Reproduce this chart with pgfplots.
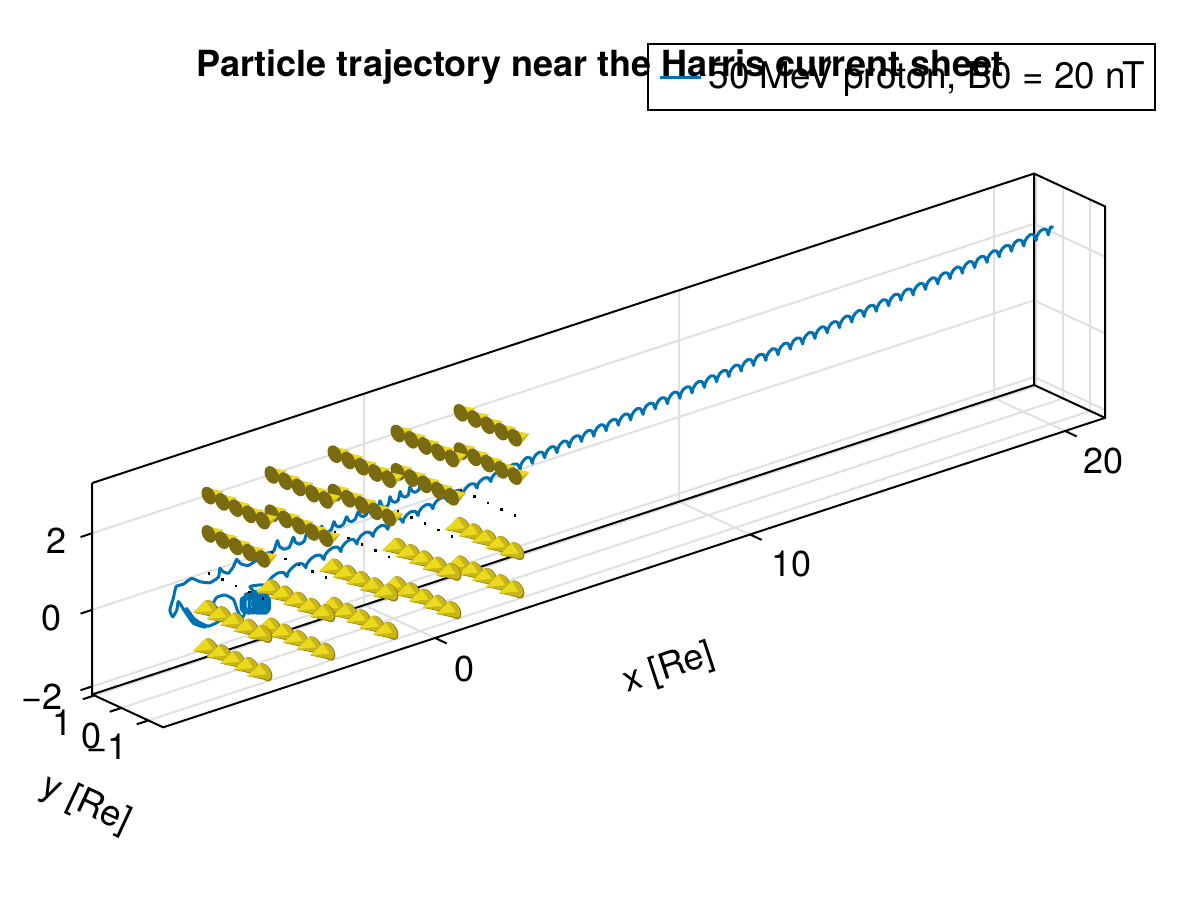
\documentclass[border=0pt]{standalone}
\usepackage{fontspec}
\setmainfont{TeX Gyre Heros}
\usepackage{pgfplots}
\pgfplotsset{compat=1.18}
\usetikzlibrary{calc}
\definecolor{traj}{HTML}{0072B2}
\definecolor{dotc}{HTML}{440154}
\definecolor{conebase}{HTML}{7A6A10}
\definecolor{conedark}{HTML}{8F7E10}
\definecolor{conegold}{HTML}{C9B517}
\definecolor{coneyel}{HTML}{EBD91E}
\newcommand{\tsize}{\fontsize{18}{21}\selectfont}
% cones, drawn in reference pixels (1 px = 0.5 pt)
\pgfdeclareplotmark{coneup}{%
  \pgftransformscale{0.5}%
  \pgfsetfillcolor{conegold}%
  \pgfpathmoveto{\pgfpoint{14.5pt}{5pt}}\pgfpathlineto{\pgfpoint{-3.8pt}{9pt}}\pgfpathlineto{\pgfpoint{4.8pt}{-7pt}}\pgfpathclose\pgfusepath{fill}%
  \pgfsetfillcolor{coneyel}%
  \pgfpathmoveto{\pgfpoint{14.5pt}{5pt}}\pgfpathlineto{\pgfpoint{-3.8pt}{9pt}}\pgfpathlineto{\pgfpoint{4pt}{-1pt}}\pgfpathclose\pgfusepath{fill}%
  \pgfsetfillcolor{conebase}%
  \pgfpathellipse{\pgfpoint{0pt}{1pt}}{\pgfpoint{-4.7pt}{8.2pt}}{\pgfpoint{5.5pt}{3.4pt}}\pgfusepath{fill}%
}
\pgfdeclareplotmark{conedown}{%
  \pgftransformscale{0.57}%
  \pgfsetfillcolor{conedark}%
  \pgfpathmoveto{\pgfpoint{-13.5pt}{-1pt}}\pgfpathlineto{\pgfpoint{-2.7pt}{9.6pt}}\pgfpathlineto{\pgfpoint{6.3pt}{-5.4pt}}\pgfpathclose\pgfusepath{fill}%
  \pgfpathellipse{\pgfpoint{2pt}{2.3pt}}{\pgfpoint{-4.6pt}{7.4pt}}{\pgfpoint{4.6pt}{2.8pt}}\pgfusepath{fill}%
  \pgfsetfillcolor{conegold}%
  \pgfpathmoveto{\pgfpoint{-13.5pt}{-1pt}}\pgfpathlineto{\pgfpoint{-2.7pt}{9.6pt}}\pgfpathlineto{\pgfpoint{5pt}{-4pt}}\pgfpathclose\pgfusepath{fill}%
  \pgfpathellipse{\pgfpoint{1.6pt}{2.8pt}}{\pgfpoint{-4.2pt}{6.8pt}}{\pgfpoint{4pt}{2.4pt}}\pgfusepath{fill}%
  \pgfsetfillcolor{coneyel}%
  \pgfpathmoveto{\pgfpoint{-13.5pt}{-1pt}}\pgfpathlineto{\pgfpoint{-2.7pt}{9.4pt}}\pgfpathlineto{\pgfpoint{3.5pt}{0.5pt}}\pgfpathclose\pgfusepath{fill}%
}
\begin{document}
\begin{tikzpicture}
\begin{axis}[
    hide axis,
    clip=false,
    x={(15.75pt,5.175pt)},
    y={(-13.5pt,6.25pt)},
    z={(0pt,19.15pt)},
    xmin=-8.63, xmax=21.27,
    ymin=-1.55, ymax=1.08,
    zmin=-2.21, zmax=3.31,
    unbounded coords=jump,
    title={\tsize\bfseries Particle trajectory near the Harris current sheet},
    title style={at={(0.5015,1.170)},anchor=center,inner sep=0pt},
    legend style={at={(1.0503,1.2355)},anchor=north east,draw=black,line width=1pt,fill=none,
        font=\fontsize{18.4}{21}\selectfont,inner xsep=3pt,inner ysep=7pt},
    legend cell align=left,
    legend image code/.code={\path (-2.5pt,0pt);\draw[#1] (0pt,0pt) -- (20.5pt,0pt);\path (21.5pt,0pt);},
]
% grid on the floor and the two back walls
\addplot3[forget plot,mark=none,black!12,line width=1pt] coordinates {
  (0,-1.55,-2.21)(0,1.08,-2.21)(0,1.08,3.31) (nan,nan,nan)
  (10,-1.55,-2.21)(10,1.08,-2.21)(10,1.08,3.31) (nan,nan,nan)
  (20,-1.55,-2.21)(20,1.08,-2.21)(20,1.08,3.31) (nan,nan,nan)
  (-8.63,-1,-2.21)(21.27,-1,-2.21)(21.27,-1,3.31) (nan,nan,nan)
  (-8.63,0,-2.21)(21.27,0,-2.21)(21.27,0,3.31) (nan,nan,nan)
  (-8.63,1,-2.21)(21.27,1,-2.21)(21.27,1,3.31) (nan,nan,nan)
  (-8.63,1.08,-2)(21.27,1.08,-2)(21.27,-1.55,-2) (nan,nan,nan)
  (-8.63,1.08,0)(21.27,1.08,0)(21.27,-1.55,0) (nan,nan,nan)
  (-8.63,1.08,2)(21.27,1.08,2)(21.27,-1.55,2)
};
% box and ticks
\addplot3[forget plot,mark=none,black,line width=1pt] coordinates {
  (-8.63,1.08,3.31)(-8.63,1.08,-2.21)(-8.63,-1.55,-2.21)(21.27,-1.55,-2.21)(21.27,-1.55,3.31)(21.27,1.08,3.31)(-8.63,1.08,3.31) (nan,nan,nan)
  (-8.63,1.08,-2.21)(21.27,1.08,-2.21)(21.27,1.08,3.31) (nan,nan,nan)
  (21.27,1.08,-2.21)(21.27,-1.55,-2.21) (nan,nan,nan)
  (0,-1.55,-2.21)(0,-1.98,-2.21) (nan,nan,nan)
  (10,-1.55,-2.21)(10,-1.98,-2.21) (nan,nan,nan)
  (20,-1.55,-2.21)(20,-1.98,-2.21) (nan,nan,nan)
  (-8.63,-1,-2.21)(-9,-1,-2.21) (nan,nan,nan)
  (-8.63,0,-2.21)(-9,0,-2.21) (nan,nan,nan)
  (-8.63,1,-2.21)(-9,1,-2.21) (nan,nan,nan)
  (-8.63,1.08,-2)(-9,1.08,-2) (nan,nan,nan)
  (-8.63,1.08,0)(-9,1.08,0) (nan,nan,nan)
  (-8.63,1.08,2)(-9,1.08,2)
};
% zero field points
\addplot3[forget plot,only marks,mark=square*,mark size=0.4pt,mark options={draw=none,fill=dotc}] coordinates {
  (3,1,0)(3,0.5,0)(3,0,0)(3,-0.5,0)(3,-1,0)
  (1,1,0)(1,0.5,0)(1,0,0)(1,-0.5,0)(1,-1,0)
  (-1,1,0)(-1,0.5,0)(-1,0,0)(-1,-0.5,0)(-1,-1,0)
  (-3,1,0)(-3,0.5,0)(-3,0,0)(-3,-0.5,0)(-3,-1,0)
  (-5,1,0)(-5,0.5,0)(-5,0,0)(-5,-0.5,0)(-5,-1,0)
};
% trajectory: x z, in the plane y = 0
\addplot3[traj,mark=none,line width=1.5pt,line join=round,smooth,tension=0.3]
  table[x index=0,y expr=0,z index=1,header=false,row sep=\\] {
0.85 1.05\\0.81 0.93\\0.69 0.90\\0.59 0.97\\0.53 1.09\\0.48 0.89\\0.38 0.86\\0.27 0.93\\0.22 1.05\\0.16 0.84\\
0.06 0.81\\-0.05 0.88\\-0.10 1.00\\-0.16 0.80\\-0.28 0.77\\-0.37 0.86\\-0.42 0.98\\-0.49 0.78\\-0.61 0.74\\-0.70 0.80\\
-0.76 0.92\\-0.84 0.75\\-0.95 0.71\\-1.05 0.77\\-1.11 0.88\\-1.21 0.71\\-1.32 0.68\\-1.41 0.73\\-1.48 0.85\\-1.58 0.68\\
-1.71 0.65\\-1.82 0.71\\-1.88 0.83\\-1.97 0.64\\-2.11 0.61\\-2.22 0.68\\-2.27 0.82\\-2.40 0.60\\-2.53 0.57\\-2.66 0.65\\
-2.73 0.80\\-2.83 0.57\\-2.98 0.54\\-3.10 0.62\\-3.17 0.77\\-3.30 0.54\\-3.47 0.54\\-3.61 0.65\\-3.68 0.82\\-3.80 0.57\\
-4.02 0.58\\-4.33 0.49\\-4.60 0.42\\-4.84 0.53\\-4.97 0.68\\-5.07 0.52\\-5.23 0.39\\-5.41 0.48\\-5.50 0.59\\-5.55 0.37\\
-5.82 0.30\\-6.13 0.41\\-6.40 0.57\\-6.66 0.49\\-6.89 0.49\\-6.98 0.21\\-7.09 -0.07\\-7.00 -0.27\\-6.87 -0.13\\-6.82 0.08\\
-6.61 -0.24\\-6.34 -0.62\\-5.97 -0.82\\-6.29 -0.55\\-6.56 -0.17\\-6.45 -0.37\\-6.19 -0.62\\-5.87 -0.82\\-5.55 -0.79\\-5.39 -0.70\\
-5.60 -0.43\\-5.71 -0.27\\-5.60 -0.14\\-5.34 -0.15\\-5.07 -0.34\\-4.95 -0.65\\-4.81 -0.90\\-4.70 -0.76\\-4.81 -0.47\\-4.60 -0.35\\-4.33 -0.33\\
-4.70 -0.31\\-4.58 -0.47\\-4.58 -0.71\\-4.70 -0.80\\-4.82 -0.65\\-4.82 -0.40\\
-4.57 -0.35\\-4.45 -0.50\\-4.45 -0.75\\-4.57 -0.84\\-4.69 -0.68\\-4.69 -0.44\\
-4.44 -0.38\\-4.32 -0.54\\-4.32 -0.78\\-4.44 -0.87\\-4.56 -0.72\\-4.56 -0.47\\
-4.33 -0.41\\-4.21 -0.57\\-4.21 -0.81\\-4.33 -0.90\\-4.45 -0.75\\-4.45 -0.50\\
-4.24 -0.44\\-4.12 -0.59\\-4.12 -0.84\\-4.24 -0.93\\-4.36 -0.77\\-4.36 -0.53\\
-4.16 -0.46\\-4.04 -0.61\\-4.04 -0.86\\-4.16 -0.95\\-4.28 -0.79\\-4.28 -0.55\\
-4.10 -0.48\\-3.98 -0.63\\-3.98 -0.88\\-4.10 -0.96\\-4.22 -0.81\\-4.22 -0.56\\
-4.05 -0.49\\-3.93 -0.64\\-3.93 -0.89\\-4.05 -0.98\\-4.17 -0.82\\-4.17 -0.58\\
-4.55 -0.15\\-4.17 -0.20\\
-4.01 -0.27\\-3.98 -0.19\\-3.85 -0.09\\-3.67 -0.03\\-3.49 -0.06\\
-3.37 -0.20\\-3.35 -0.12\\-3.22 -0.02\\-3.05 0.04\\-2.88 0.00\\
-2.77 -0.13\\-2.75 -0.05\\-2.63 0.05\\-2.47 0.10\\-2.31 0.07\\
-2.20 -0.07\\-2.18 0.02\\-2.07 0.11\\-1.91 0.16\\-1.76 0.13\\
-1.66 -0.01\\-1.64 0.08\\-1.53 0.17\\-1.39 0.22\\-1.25 0.19\\
-1.15 0.05\\-1.13 0.13\\-1.02 0.23\\-0.88 0.28\\-0.74 0.24\\
-0.64 0.11\\-0.62 0.19\\-0.52 0.28\\-0.39 0.32\\-0.26 0.29\\
-0.17 0.17\\-0.15 0.24\\-0.05 0.33\\0.08 0.37\\0.22 0.34\\
0.31 0.22\\0.33 0.30\\0.43 0.38\\0.56 0.43\\0.70 0.40\\
0.79 0.27\\0.81 0.35\\0.91 0.44\\1.04 0.48\\1.17 0.45\\
1.26 0.32\\1.28 0.40\\1.38 0.49\\1.51 0.53\\1.65 0.50\\
1.74 0.38\\1.76 0.45\\1.86 0.54\\1.99 0.59\\2.13 0.56\\
2.22 0.43\\2.24 0.51\\2.33 0.59\\2.45 0.64\\2.58 0.61\\
2.66 0.48\\2.68 0.56\\2.77 0.64\\2.89 0.68\\3.02 0.65\\
3.10 0.53\\3.12 0.61\\3.21 0.69\\3.34 0.73\\3.46 0.70\\
3.55 0.58\\3.57 0.66\\3.67 0.74\\3.80 0.79\\3.94 0.76\\
4.03 0.61\\4.05 0.70\\4.13 0.80\\4.24 0.85\\4.35 0.81\\
4.42 0.65\\4.44 0.74\\4.52 0.84\\4.63 0.88\\4.74 0.85\\
4.81 0.69\\4.83 0.77\\4.91 0.87\\5.02 0.92\\5.13 0.88\\
5.20 0.72\\5.22 0.81\\5.30 0.91\\5.41 0.96\\5.52 0.92\\
5.59 0.76\\5.61 0.84\\5.69 0.95\\5.80 0.99\\5.91 0.96\\
5.98 0.80\\6.00 0.88\\6.08 0.98\\6.19 1.03\\6.30 0.99\\
6.37 0.83\\6.39 0.92\\6.47 1.02\\6.58 1.07\\6.69 1.03\\
6.76 0.87\\6.78 0.95\\6.86 1.06\\6.97 1.10\\7.08 1.07\\
7.15 0.91\\7.17 0.99\\7.25 1.09\\7.36 1.14\\7.47 1.10\\
7.54 0.94\\7.56 1.03\\7.64 1.13\\7.75 1.18\\7.86 1.14\\
7.93 0.98\\7.95 1.06\\8.03 1.17\\8.14 1.21\\8.25 1.18\\
8.32 1.02\\8.34 1.10\\8.42 1.20\\8.53 1.25\\8.64 1.21\\
8.71 1.05\\8.73 1.14\\8.81 1.24\\8.92 1.29\\9.03 1.25\\
9.10 1.09\\9.12 1.17\\9.20 1.28\\9.31 1.32\\9.42 1.29\\
9.49 1.12\\9.51 1.21\\9.59 1.31\\9.70 1.36\\9.81 1.32\\
9.88 1.16\\9.90 1.25\\9.98 1.35\\10.09 1.40\\10.20 1.36\\
10.27 1.20\\10.29 1.28\\10.37 1.39\\10.48 1.43\\10.59 1.40\\
10.66 1.23\\10.68 1.32\\10.76 1.42\\10.87 1.47\\10.98 1.43\\
11.05 1.27\\11.07 1.36\\11.15 1.46\\11.26 1.51\\11.37 1.47\\
11.44 1.31\\11.46 1.39\\11.54 1.50\\11.65 1.54\\11.76 1.50\\
11.83 1.34\\11.85 1.43\\11.93 1.53\\12.04 1.58\\12.15 1.54\\
12.22 1.38\\12.24 1.47\\12.32 1.57\\12.43 1.62\\12.54 1.58\\
12.61 1.42\\12.63 1.50\\12.71 1.61\\12.82 1.65\\12.93 1.61\\
13.00 1.45\\13.02 1.54\\13.10 1.64\\13.21 1.69\\13.32 1.65\\
13.39 1.49\\13.41 1.58\\13.49 1.68\\13.60 1.73\\13.71 1.69\\
13.78 1.53\\13.80 1.61\\13.88 1.72\\13.99 1.76\\14.10 1.72\\
14.17 1.56\\14.19 1.65\\14.27 1.75\\14.38 1.80\\14.49 1.76\\
14.56 1.60\\14.58 1.69\\14.66 1.79\\14.77 1.84\\14.88 1.80\\
14.95 1.64\\14.97 1.72\\15.05 1.83\\15.16 1.87\\15.27 1.83\\
15.34 1.67\\15.36 1.76\\15.44 1.86\\15.55 1.91\\15.66 1.87\\
15.73 1.71\\15.75 1.80\\15.83 1.90\\15.94 1.95\\16.05 1.91\\
16.12 1.75\\16.14 1.83\\16.22 1.94\\16.33 1.98\\16.44 1.94\\
16.51 1.78\\16.53 1.87\\16.61 1.97\\16.72 2.02\\16.83 1.98\\
16.90 1.82\\16.92 1.91\\17.00 2.01\\17.11 2.06\\17.22 2.02\\
17.29 1.86\\17.31 1.94\\17.39 2.05\\17.50 2.09\\17.61 2.05\\
17.68 1.89\\17.70 1.98\\17.78 2.08\\17.89 2.13\\18.00 2.09\\
18.07 1.93\\18.09 2.02\\18.17 2.12\\18.28 2.17\\18.39 2.13\\
18.46 1.97\\18.48 2.05\\18.56 2.16\\18.67 2.20\\18.78 2.16\\
18.85 2.00\\18.87 2.09\\18.95 2.19\\19.06 2.24\\19.17 2.20\\
19.24 2.04\\19.26 2.13\\19.34 2.23\\19.45 2.27\\19.56 2.24\\
19.63 2.08\\19.65 2.16\\19.73 2.27\\19.84 2.31\\19.95 2.27\\
20.02 2.11\\20.04 2.20\\20.12 2.30\\20.23 2.35\\20.34 2.31\\
20.41 2.15\\20.43 2.24\\20.51 2.34\\20.62 2.38\\20.73 2.35\\
20.80 2.19\\20.82 2.27\\20.88 2.38\\20.95 2.33\\
};
\addlegendentry{50 MeV proton, B0 = 20 nT}
% field arrows above the sheet
\addplot3[forget plot,only marks,mark=coneup] coordinates {
  (3,1,2)(3,0.5,2)(3,0,2)(3,-0.5,2)(3,-1,2) (3,1,1)(3,0.5,1)(3,0,1)(3,-0.5,1)(3,-1,1)
  (1,1,2)(1,0.5,2)(1,0,2)(1,-0.5,2)(1,-1,2) (1,1,1)(1,0.5,1)(1,0,1)(1,-0.5,1)(1,-1,1)
  (-1,1,2)(-1,0.5,2)(-1,0,2)(-1,-0.5,2)(-1,-1,2) (-1,1,1)(-1,0.5,1)(-1,0,1)(-1,-0.5,1)(-1,-1,1)
  (-3,1,2)(-3,0.5,2)(-3,0,2)(-3,-0.5,2)(-3,-1,2) (-3,1,1)(-3,0.5,1)(-3,0,1)(-3,-0.5,1)(-3,-1,1)
  (-5,1,2)(-5,0.5,2)(-5,0,2)(-5,-0.5,2)(-5,-1,2) (-5,1,1)(-5,0.5,1)(-5,0,1)(-5,-0.5,1)(-5,-1,1)
};
% field arrows below the sheet
\addplot3[forget plot,only marks,mark=conedown] coordinates {
  (3,1,-1)(3,0.5,-1)(3,0,-1)(3,-0.5,-1)(3,-1,-1) (3,1,-2)(3,0.5,-2)(3,0,-2)(3,-0.5,-2)(3,-1,-2)
  (1,1,-1)(1,0.5,-1)(1,0,-1)(1,-0.5,-1)(1,-1,-1) (1,1,-2)(1,0.5,-2)(1,0,-2)(1,-0.5,-2)(1,-1,-2)
  (-1,1,-1)(-1,0.5,-1)(-1,0,-1)(-1,-0.5,-1)(-1,-1,-1) (-1,1,-2)(-1,0.5,-2)(-1,0,-2)(-1,-0.5,-2)(-1,-1,-2)
  (-3,1,-1)(-3,0.5,-1)(-3,0,-1)(-3,-0.5,-1)(-3,-1,-1) (-3,1,-2)(-3,0.5,-2)(-3,0,-2)(-3,-0.5,-2)(-3,-1,-2)
  (-5,1,-1)(-5,0.5,-1)(-5,0,-1)(-5,-0.5,-1)(-5,-1,-1) (-5,1,-2)(-5,0.5,-2)(-5,0,-2)(-5,-0.5,-2)(-5,-1,-2)
};
\coordinate (TL) at (axis cs:-12.483,0,17.316);
\coordinate (BR) at (axis cs:25.613,0,-16.478);
\end{axis}
\path (TL) rectangle (BR);
% tick labels and axis labels, placed in reference pixels
\begin{scope}[shift={(TL)},x=0.5pt,y=-0.5pt,every node/.style={font=\tsize,inner sep=0pt,text=black}]
\node at (465,669) {0};
\node at (792,564) {10};
\node at (1104,461) {20};
\node at (63,723) {1};
\node at (92,736) {0};
\node at (107,747) {−1};
\node at (57,541) {2};
\node at (52,618) {0};
\node at (42,697) {−2};
\node[rotate=18.2] at (669,669) {x [Re]};
\node[rotate=-25] at (86,805) {y [Re]};
\end{scope}
\end{tikzpicture}
\end{document}
